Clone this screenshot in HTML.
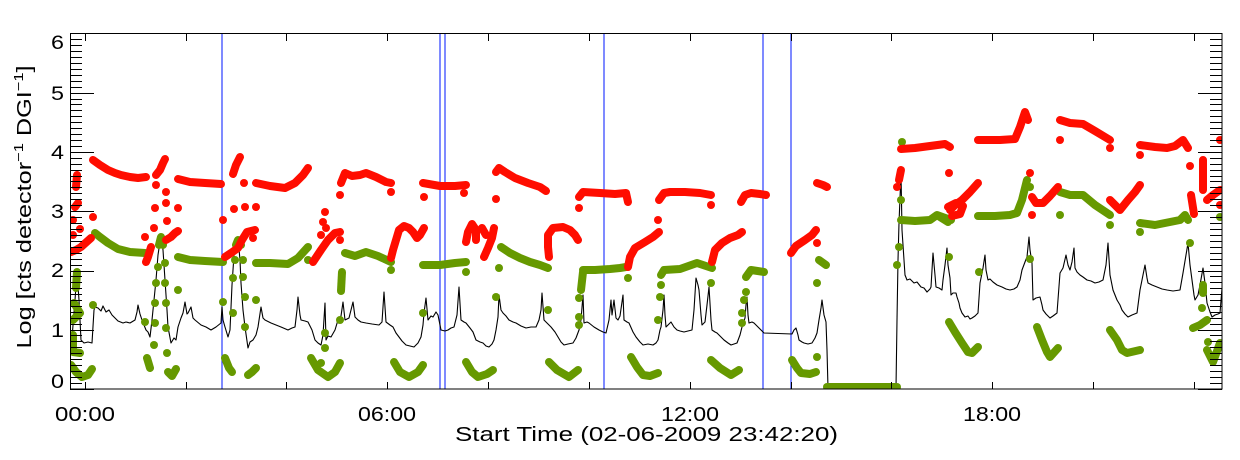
<!DOCTYPE html>
<html><head><meta charset="utf-8"><style>
html,body{margin:0;padding:0;background:#fff;}
svg{display:block;}
text{font-family:"Liberation Sans",Arial,sans-serif;fill:#000;}
</style></head><body>
<svg width="1240" height="460" viewBox="0 0 1240 460" xmlns="http://www.w3.org/2000/svg">
<defs><clipPath id="pc"><rect x="70" y="34" width="1152" height="355"/></clipPath></defs>
<rect x="0" y="0" width="1240" height="460" fill="#fff"/>
<g clip-path="url(#pc)">
<!-- blue lines -->
<g stroke="#2a3cff" stroke-width="1.2">
<line x1="222" y1="34" x2="222" y2="389"/><line x1="440" y1="34" x2="440" y2="389"/>
<line x1="445" y1="34" x2="445" y2="389"/><line x1="604" y1="34" x2="604" y2="389"/>
<line x1="763" y1="34" x2="763" y2="389"/><line x1="791" y1="34" x2="791" y2="389"/>
</g>
<!-- black line -->
<path fill="none" stroke="#000" stroke-width="1.1" stroke-linejoin="round" d="M70,335 L72,338 L75,300 L77,272 L79,300 L81,340 L84,343 L88,342 L92,343 L94,310 L95,307 L98,308 L101,311 L103,306 L106,312 L109,310 L112,315 L118,321 L123,323 L126,322 L130,323 L135,320 L137,312 L138,305 L140,314 L142,320 L146,330 L148,332 L150,337 L152,320 L154,300 L156,280 L158,255 L161,235 L163,250 L165,280 L167,310 L168,327 L171,343 L174,338 L176,340 L178,327 L181,318 L183,313 L185,302 L187,314 L188,313 L191,307 L193,318 L195,320 L201,325 L206,327 L211,330 L216,327 L221,323 L222,307 L223,320 L225,327 L228,337 L230,330 L232,285 L235,240 L238,238 L240,260 L241,283 L243,310 L245,327 L248,348 L250,342 L253,340 L256,335 L258,327 L261,307 L263,318 L265,320 L271,323 L276,325 L281,327 L288,330 L292,328 L295,327 L297,310 L298,297 L300,315 L301,320 L305,321 L308,322 L312,330 L315,340 L318,343 L321,345 L323,335 L325,303 L326,340 L328,336 L331,337 L335,330 L338,320 L341,316 L343,302 L345,320 L349,318 L353,302 L355,317 L358,320 L361,322 L366,323 L372,324 L379,325 L382,322 L384,292 L386,322 L390,325 L393,327 L396,333 L399,337 L402,341 L406,345 L410,346 L414,347 L418,343 L421,337 L423,325 L424,313 L426,298 L428,320 L431,316 L433,317 L436,312 L438,315 L440,325 L441,330 L445,331 L448,330 L451,328 L454,327 L457,315 L459,287 L461,320 L464,322 L466,323 L470,328 L473,332 L476,340 L480,342 L483,343 L486,346 L489,347 L492,344 L494,340 L496,330 L498,317 L499,295 L501,310 L503,313 L506,316 L509,320 L513,322 L516,323 L521,326 L526,328 L531,327 L536,327 L539,320 L541,310 L542,293 L544,320 L548,324 L551,327 L555,332 L558,337 L561,342 L564,345 L568,344 L573,343 L576,338 L579,330 L581,320 L583,295 L584,323 L587,322 L589,323 L594,327 L599,330 L603,332 L606,333 L609,320 L611,300 L612,315 L614,300 L616,318 L618,320 L620,316 L623,295 L624,320 L627,322 L629,323 L633,332 L636,337 L640,342 L643,345 L648,344 L653,345 L656,343 L658,340 L660,330 L661,327 L663,310 L664,295 L665,315 L666,327 L671,322 L674,327 L677,330 L680,331 L684,332 L688,331 L692,330 L694,310 L696,278 L698,285 L699,290 L701,315 L702,325 L705,322 L707,305 L709,287 L711,320 L712,330 L715,332 L717,333 L721,337 L724,340 L728,343 L731,345 L734,344 L737,343 L740,335 L742,327 L745,318 L746,305 L747,297 L748,315 L749,323 L752,322 L754,323 L758,327 L761,330 L764,333 L792,334 L794,330 L796,328 L798,335 L799,340 L802,342 L804,343 L808,344 L812,343 L815,338 L817,333 L819,320 L821,308 L822,300 L824,315 L826,322 L827,350 L828,388 L896,388 L897,320 L898,260 L899,223 L901,173 L902,230 L904,260 L905,275 L907,280 L910,279 L914,283 L917,282 L921,287 L924,288 L927,292 L930,289 L931,287 L932,270 L933,253 L935,275 L936,287 L939,288 L942,290 L943,280 L945,265 L947,248 L948,265 L950,278 L951,295 L953,293 L956,293 L957,297 L959,303 L960,308 L962,313 L965,317 L968,316 L970,319 L972,318 L975,316 L978,313 L980,283 L983,268 L985,255 L986,270 L988,280 L990,279 L993,282 L997,285 L1002,287 L1006,289 L1010,290 L1014,289 L1017,287 L1020,280 L1022,270 L1025,262 L1027,257 L1029,237 L1030,250 L1032,263 L1033,300 L1036,298 L1040,297 L1042,305 L1043,310 L1046,314 L1050,318 L1053,316 L1057,313 L1060,273 L1063,268 L1066,255 L1068,265 L1070,270 L1072,262 L1074,248 L1075,268 L1077,272 L1080,275 L1083,277 L1087,280 L1091,281 L1095,283 L1099,282 L1103,280 L1106,265 L1108,243 L1110,275 L1113,290 L1115,295 L1117,300 L1120,305 L1122,310 L1125,314 L1128,317 L1132,315 L1137,313 L1140,290 L1143,275 L1145,265 L1147,278 L1148,283 L1152,285 L1157,287 L1162,289 L1167,290 L1173,291 L1180,290 L1183,273 L1186,255 L1188,243 L1190,265 L1192,280 L1194,295 L1195,300 L1198,295 L1200,285 L1203,268 L1205,283 L1207,303 L1210,312 L1212,317 L1215,315 L1218,314 L1220,313 L1222,288"/>
<!-- green series -->
<g fill="none" stroke="#669900" stroke-width="8" stroke-linecap="round" stroke-linejoin="round">
<path d="M77,272 L76,288 M74,303 L80,313 L73,320 M73,335 L73,352 L80,353 M71,365 L76,372 L82,377 L88,375 L92,369"/>
<path d="M95,233 L100,237 L108,243 L118,249 L130,252 L145,253"/>
<path d="M159,245 L161,237 L163,245 M147,358 L150,368 M168,372 L172,376 L176,369"/>
<path d="M178,257 L190,260 L205,261 L223,262"/>
<path d="M236,245 L238,240 L241,245 M225,358 L229,368 L232,372 M248,375 L252,372 L256,368"/>
<path d="M256,263 L270,263 L288,264 L298,258 L308,247"/>
<path d="M311,358 L318,370 L328,377 L335,372 L340,363"/>
<path d="M345,253 L355,256 L366,252 L378,256 L391,262"/>
<path d="M342,272 L341,291"/>
<path d="M423,265 L440,265 L455,263 L466,262"/>
<path d="M501,247 L510,253 L520,258 L530,262 L540,265 L548,268"/>
<path d="M583,270 L595,270 L610,269 L620,268 L626,267 M583,272 L581,290"/>
<path d="M661,275 L664,270 L680,269 L697,263 L712,268"/>
<path d="M746,277 L751,270 L764,272 M819,260 L826,265"/>
<path d="M394,362 L400,372 L409,377 L418,372 L423,365"/>
<path d="M466,362 L472,372 L478,377 L487,374 L493,370"/>
<path d="M549,362 L557,370 L569,377 L578,370"/>
<path d="M631,357 L637,367 L643,375 L650,376 L658,373"/>
<path d="M711,360 L720,368 L731,375 L739,370"/>
<path d="M792,360 L797,368 L801,373 L810,374 L816,372"/>
<path d="M827,387 L897,387"/>
<path d="M901,220 L915,221 L930,220 L937,215 L951,220"/>
<path d="M949,322 L955,332 L962,343 L968,352 L972,353 L978,347"/>
<path d="M940,217 L948,222"/>
<path d="M978,216 L995,216 L1010,215 L1017,213 L1022,200 L1027,180"/>
<path d="M1060,192 L1070,195 L1083,195 L1095,205 L1110,215"/>
<path d="M1140,223 L1155,225 L1170,222 L1180,220 L1185,215 L1188,220"/>
<path d="M1203,285 L1203,293"/>
<path d="M1037,327 L1042,340 L1047,352 L1050,357 L1058,348"/>
<path d="M1110,330 L1117,340 L1122,350 L1127,353 L1140,350"/>
<path d="M1193,328 L1200,325 L1207,320 M1207,350 L1213,362 L1220,343"/>
</g>
<g fill="#669900">
<circle cx="93" cy="305" r="4"/>
<circle cx="158" cy="267" r="4"/><circle cx="156" cy="283" r="4"/><circle cx="155" cy="303" r="4"/><circle cx="155" cy="323" r="4"/><circle cx="154" cy="345" r="4"/>
<circle cx="165" cy="263" r="4"/><circle cx="165" cy="283" r="4"/><circle cx="166" cy="303" r="4"/><circle cx="166" cy="328" r="4"/><circle cx="167" cy="353" r="4"/>
<circle cx="178" cy="290" r="4"/><circle cx="145" cy="322" r="4"/>
<circle cx="235" cy="260" r="4"/><circle cx="233" cy="278" r="4"/><circle cx="233" cy="313" r="4"/>
<circle cx="243" cy="260" r="4"/><circle cx="243" cy="277" r="4"/><circle cx="245" cy="297" r="4"/><circle cx="245" cy="327" r="4"/>
<circle cx="256" cy="300" r="4"/><circle cx="223" cy="302" r="4"/><circle cx="308" cy="260" r="4"/>
<circle cx="325" cy="333" r="4"/><circle cx="325" cy="348" r="4"/><circle cx="321" cy="363" r="4"/>
<circle cx="340" cy="320" r="4"/><circle cx="391" cy="270" r="4"/>
<circle cx="466" cy="272" r="4"/><circle cx="423" cy="313" r="4"/>
<circle cx="499" cy="268" r="4"/><circle cx="496" cy="297" r="4"/><circle cx="548" cy="310" r="4"/>
<circle cx="628" cy="278" r="4"/><circle cx="579" cy="298" r="4"/><circle cx="579" cy="317" r="4"/><circle cx="579" cy="325" r="4"/>
<circle cx="661" cy="285" r="4"/><circle cx="660" cy="297" r="4"/><circle cx="658" cy="320" r="4"/><circle cx="711" cy="283" r="4"/>
<circle cx="746" cy="292" r="4"/><circle cx="744" cy="300" r="4"/><circle cx="742" cy="313" r="4"/><circle cx="742" cy="323" r="4"/>
<circle cx="817" cy="283" r="4"/><circle cx="817" cy="357" r="4"/>
<circle cx="899" cy="247" r="4"/><circle cx="897" cy="265" r="4"/><circle cx="901" cy="200" r="4"/><circle cx="902" cy="142" r="4"/>
<circle cx="949" cy="257" r="4"/><circle cx="1030" cy="187" r="4"/><circle cx="1110" cy="225" r="4"/><circle cx="1060" cy="215" r="4"/>
<circle cx="1140" cy="232" r="4"/><circle cx="1220" cy="217" r="4"/><circle cx="1190" cy="243" r="4"/>
<circle cx="979" cy="272" r="4"/><circle cx="1030" cy="259" r="4"/><circle cx="1202" cy="308" r="4"/><circle cx="1208" cy="342" r="4"/>
</g>
<!-- red series -->
<g fill="none" stroke="#ff0d00" stroke-width="8" stroke-linecap="round" stroke-linejoin="round">
<path d="M77,175 L76,187 M78,203 L75,207 M71,252 L76,250 L81,247 L91,238"/>
<path d="M93,160 L100,165 L108,170 L115,173 L121,175 L130,177 L138,178 L146,177"/>
<path d="M156,175 L160,170 L163,163 L165,159"/>
<path d="M146,262 L148,257 L151,247 M166,240 L171,237 L175,233 L178,231"/>
<path d="M178,179 L190,182 L205,183 L221,184"/>
<path d="M233,174 L236,165 L240,157"/>
<path d="M225,257 L231,253 L238,248 L242,240 L247,232 L255,230"/>
<path d="M256,183 L270,186 L285,188 L295,183 L303,175 L308,168"/>
<path d="M341,183 L345,173 L352,176 L360,175 L366,173 L376,177 L386,182 L391,183"/>
<path d="M313,262 L321,250 L328,240 L335,233 L340,232"/>
<path d="M423,183 L440,186 L455,186 L466,185"/>
<path d="M496,172 L499,168 L505,172 L515,178 L528,183 L540,187 L546,191"/>
<path d="M579,197 L583,192 L600,193 L615,194 L626,193 L628,202"/>
<path d="M659,200 L664,193 L670,192 L685,192 L700,193 L711,195"/>
<path d="M741,202 L745,195 L751,193 L760,194 L766,195"/>
<path d="M817,183 L823,185 L827,187"/>
<path d="M901,149 L915,148 L930,146 L945,144 L950,147"/>
<path d="M978,140 L1000,140 L1015,139 L1020,127 L1025,112 L1028,120"/>
<path d="M1060,120 L1070,123 L1083,124 L1095,131 L1110,140"/>
<path d="M1140,145 L1155,147 L1167,148 L1175,146 L1183,140 L1188,148"/>
<path d="M391,258 L393,250 L396,240 L399,230 L404,226 L409,228 L413,232 L417,238 L420,235 L424,228"/>
<path d="M466,242 L468,232 L472,224 L476,230 L476,240 M482,228 L486,235 M494,228 L492,238 L488,248 L484,257"/>
<path d="M549,257 L548,247 L548,235 L553,228 L563,227 L570,230 L575,235 L578,240"/>
<path d="M628,267 L630,257 L635,248 L645,242 L653,237 L659,232"/>
<path d="M712,262 L715,250 L722,243 L730,238 L738,235 L742,232"/>
<path d="M791,253 L796,246 L805,240 L812,235 L816,230"/>
<path d="M948,207 L956,203 L963,206 L960,214 L952,216"/>
<path d="M950,210 L955,205 L962,200 L970,192 L978,183"/>
<path d="M1032,197 L1036,203 L1043,203 L1050,196 L1058,187"/>
<path d="M1110,200 L1115,205 L1120,210 L1128,200 L1135,192 L1140,185"/>
<path d="M1203,160 L1203,190 M1191,195 L1194,214 M1207,200 L1213,195 L1220,190"/>
<path d="M901,170 L899,180"/>
</g>
<g fill="#ff0d00">
<circle cx="73" cy="220" r="4"/><circle cx="80" cy="229" r="4"/><circle cx="73" cy="235" r="4"/><circle cx="93" cy="217" r="4"/>
<circle cx="156" cy="185" r="4"/><circle cx="166" cy="192" r="4"/><circle cx="166" cy="203" r="4"/><circle cx="155" cy="208" r="4"/>
<circle cx="178" cy="208" r="4"/><circle cx="167" cy="221" r="4"/><circle cx="154" cy="228" r="4"/><circle cx="145" cy="237" r="4"/>
<circle cx="244" cy="183" r="4"/><circle cx="234" cy="209" r="4"/><circle cx="245" cy="207" r="4"/><circle cx="256" cy="207" r="4"/>
<circle cx="223" cy="220" r="4"/><circle cx="253" cy="238" r="4"/>
<circle cx="340" cy="195" r="4"/><circle cx="391" cy="192" r="4"/>
<circle cx="325" cy="212" r="4"/><circle cx="323" cy="222" r="4"/><circle cx="326" cy="228" r="4"/><circle cx="321" cy="235" r="4"/><circle cx="340" cy="240" r="4"/>
<circle cx="464" cy="193" r="4"/><circle cx="424" cy="197" r="4"/><circle cx="496" cy="199" r="4"/>
<circle cx="579" cy="208" r="4"/><circle cx="711" cy="205" r="4"/><circle cx="658" cy="220" r="4"/><circle cx="817" cy="243" r="4"/>
<circle cx="897" cy="187" r="4"/><circle cx="949" cy="173" r="4"/>
<circle cx="1110" cy="148" r="4"/><circle cx="1060" cy="140" r="4"/><circle cx="1140" cy="155" r="4"/><circle cx="1220" cy="140" r="4"/>
<circle cx="1030" cy="173" r="4"/><circle cx="1032" cy="215" r="4"/><circle cx="1190" cy="166" r="4"/><circle cx="1220" cy="205" r="4"/>
</g>
</g>
<!-- axes frame -->
<rect x="70.5" y="33.5" width="1151.5" height="355.5" fill="none" stroke="#000" stroke-width="1"/>
<!-- y ticks -->
<path stroke="#000" stroke-width="1" fill="none" d="
M70,389.5 h24 M70,330.5 h24 M70,271.5 h24 M70,211.5 h24 M70,152.5 h24 M70,93.5 h24 M70,33.5 h24
M1222,389.5 h-24 M1222,330.5 h-24 M1222,271.5 h-24 M1222,211.5 h-24 M1222,152.5 h-24 M1222,93.5 h-24
M70,383.5h12 M70,377.5h12 M70,371.5h12 M70,365.5h12 M70,359.5h12 M70,353.5h12 M70,347.5h12 M70,341.5h12 M70,335.5h12
M70,324.5h12 M70,318.5h12 M70,312.5h12 M70,306.5h12 M70,300.5h12 M70,294.5h12 M70,288.5h12 M70,282.5h12 M70,276.5h12
M70,265.5h12 M70,259.5h12 M70,253.5h12 M70,247.5h12 M70,241.5h12 M70,235.5h12 M70,229.5h12 M70,223.5h12 M70,217.5h12
M70,205.5h12 M70,199.5h12 M70,193.5h12 M70,187.5h12 M70,181.5h12 M70,176.5h12 M70,170.5h12 M70,164.5h12 M70,158.5h12
M70,146.5h12 M70,140.5h12 M70,134.5h12 M70,128.5h12 M70,122.5h12 M70,116.5h12 M70,110.5h12 M70,104.5h12 M70,99.5h12
M70,87.5h12 M70,81.5h12 M70,75.5h12 M70,69.5h12 M70,63.5h12 M70,57.5h12 M70,51.5h12 M70,45.5h12 M70,39.5h12
M1222,383.5h-12 M1222,377.5h-12 M1222,371.5h-12 M1222,365.5h-12 M1222,359.5h-12 M1222,353.5h-12 M1222,347.5h-12 M1222,341.5h-12 M1222,335.5h-12
M1222,324.5h-12 M1222,318.5h-12 M1222,312.5h-12 M1222,306.5h-12 M1222,300.5h-12 M1222,294.5h-12 M1222,288.5h-12 M1222,282.5h-12 M1222,276.5h-12
M1222,265.5h-12 M1222,259.5h-12 M1222,253.5h-12 M1222,247.5h-12 M1222,241.5h-12 M1222,235.5h-12 M1222,229.5h-12 M1222,223.5h-12 M1222,217.5h-12
M1222,205.5h-12 M1222,199.5h-12 M1222,193.5h-12 M1222,187.5h-12 M1222,181.5h-12 M1222,176.5h-12 M1222,170.5h-12 M1222,164.5h-12 M1222,158.5h-12
M1222,146.5h-12 M1222,140.5h-12 M1222,134.5h-12 M1222,128.5h-12 M1222,122.5h-12 M1222,116.5h-12 M1222,110.5h-12 M1222,104.5h-12 M1222,99.5h-12
M1222,87.5h-12 M1222,81.5h-12 M1222,75.5h-12 M1222,69.5h-12 M1222,63.5h-12 M1222,57.5h-12 M1222,51.5h-12 M1222,45.5h-12 M1222,39.5h-12
"/>
<!-- x ticks -->
<path stroke="#000" stroke-width="1" fill="none" d="
M85.5,389v-7 M186.5,389v-7 M286.5,389v-7 M387.5,389v-7 M488.5,389v-7 M589.5,389v-7 M690.5,389v-7 M791.5,389v-7 M891.5,389v-7 M992.5,389v-7 M1093.5,389v-7 M1194.5,389v-7
M85.5,34v7 M186.5,34v7 M286.5,34v7 M387.5,34v7 M488.5,34v7 M589.5,34v7 M690.5,34v7 M791.5,34v7 M891.5,34v7 M992.5,34v7 M1093.5,34v7 M1194.5,34v7
"/>
<!-- y tick labels -->
<g font-size="19" text-anchor="end">
<text x="64" y="49" textLength="13" lengthAdjust="spacingAndGlyphs">6</text>
<text x="64" y="100" textLength="13" lengthAdjust="spacingAndGlyphs">5</text>
<text x="64" y="159" textLength="13" lengthAdjust="spacingAndGlyphs">4</text>
<text x="64" y="218" textLength="13" lengthAdjust="spacingAndGlyphs">3</text>
<text x="64" y="277" textLength="13" lengthAdjust="spacingAndGlyphs">2</text>
<text x="64" y="337" textLength="13" lengthAdjust="spacingAndGlyphs">1</text>
<text x="64" y="388" textLength="13" lengthAdjust="spacingAndGlyphs">0</text>
</g>
<!-- x tick labels -->
<g font-size="20">
<text x="55" y="421" textLength="60" lengthAdjust="spacingAndGlyphs">00:00</text>
<text x="358" y="421" textLength="58" lengthAdjust="spacingAndGlyphs">06:00</text>
<text x="661" y="421" textLength="58" lengthAdjust="spacingAndGlyphs">12:00</text>
<text x="963" y="421" textLength="58" lengthAdjust="spacingAndGlyphs">18:00</text>
</g>
<text x="455" y="441" font-size="20" textLength="383" lengthAdjust="spacingAndGlyphs">Start Time (02-06-2009 23:42:20)</text>
<text transform="translate(31,207) rotate(-90)" text-anchor="middle" font-size="20" textLength="283" lengthAdjust="spacingAndGlyphs">Log [cts detector<tspan font-size="13" dy="-8">−1</tspan><tspan dy="8"> DGI</tspan><tspan font-size="13" dy="-8">−1</tspan><tspan dy="8">]</tspan></text>
</svg>
</body></html>
